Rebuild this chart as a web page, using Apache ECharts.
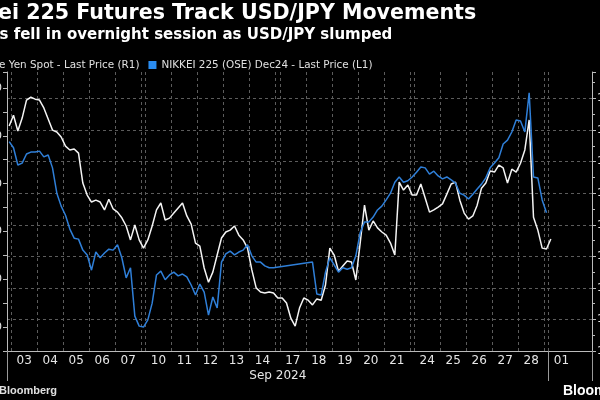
<!DOCTYPE html>
<html>
<head>
<meta charset="utf-8">
<script src="https://cdn.jsdelivr.net/npm/echarts@6/dist/echarts.min.js"></script>
<style>
  html, body { margin: 0; padding: 0; background: #000; }
  #chart { width: 600px; height: 400px; }
</style>
</head>
<body>
<div id="chart"></div>
<script>
// x axis sessions: label + number of slots (the 1-slot ones are the weekend stubs)
const sessionLabels = ['', '03', '04', '05', '06', '07', '', '10', '11', '12', '13', '14', '', '17', '18', '19', '20', '21', '', '24', '25', '26', '27', '28', '', '01'];
const sessionSlots  = [1, 6, 6, 6, 6, 6, 1, 6, 6, 6, 6, 6, 1, 6, 6, 6, 6, 6, 1, 6, 6, 6, 6, 6, 1, 10];

// USD/JPY (right axis)
const usdJpy = [
  146.13,
  146.47, 145.97, 146.38, 146.95, 147.04, 146.98,
  146.95, 146.70, 146.35, 146.00, 145.94, 145.78,
  145.49, 145.37, 145.40, 145.27, 144.32, 143.94,
  143.72, 143.78, 143.72, 143.47, 143.81, 143.50,
  143.40, 143.22, 142.96, 142.52, 142.99, 142.52,
  142.26,
  142.52, 142.96, 143.47, 143.69, 143.15, 143.21,
  143.37, 143.53, 143.69, 143.28, 143.02, 142.42,
  142.32, 141.63, 141.18, 141.50, 142.04, 142.58,
  142.77, 142.83, 142.96, 142.67, 142.52, 142.26,
  141.57, 141.00, 140.87, 140.84, 140.87, 140.84,
  140.68,
  140.68, 140.52, 140.04, 139.79, 140.36, 140.68,
  140.61, 140.46, 140.65, 140.61, 141.09, 142.26,
  142.04, 141.53, 141.69, 141.85, 141.82, 141.25,
  142.42, 143.62, 142.83, 143.12, 142.90, 142.77,
  142.67, 142.42, 142.04, 144.35, 144.10, 144.26,
  143.94,
  143.94, 144.29, 143.85, 143.40, 143.47, 143.56,
  143.66, 143.97, 144.29, 144.35, 143.78, 143.37,
  143.18, 143.28, 143.62, 144.16, 144.32, 144.70,
  144.67, 144.89, 144.80, 144.32, 144.76, 144.67,
  144.95, 145.37, 146.32, 143.24, 142.83, 142.26,
  142.23,
  142.55
];

// Nikkei 225 Dec24 futures (left axis), nulls = no trading
const nikkei = [
  38880,
  38750, 38390, 38430, 38620, 38660, 38660,
  38680, 38560, 38600, 38330, 37800, 37530,
  37340, 37050, 36860, 36840, 36610, 36510,
  36190, 36570, 36450, 36550, 36630, 36610,
  36720, 36450, 36030, 36240, 35230, 35020,
  35000,
  35150, 35500, 36090, 36170, 35990, 36090,
  36150, 36070, 36110, 36050, 35880, 35670,
  35900, 35730, 35250, 35630, 35400, 36360,
  36530, 36590, 36510, 36570, 36610, 36720,
  36490, 36360, 36360, 36280, 36240, 36240,
  null,
  null, null, null, null, null, null,
  null, 36360, 35690, 35670, 36150, 36450,
  36300, 36150, 36240, 36210, 36240, 36490,
  36970, 37200, 37200, 37300, 37450, 37530,
  37660, 37800, 38030, 38140, 38030, 38060,
  38140,
  38240, 38350, 38330, 38200, 38260, 38160,
  38100, 38140, 38080, 38010, 37800, 37760,
  37680, 37780, 37890, 37990, 38120, 38330,
  38430, 38540, 38830, 38910, 39080, 39330,
  39310, 39080, 39900, 38140, 38120, 37660,
  37390
];

const leftRange = [34500, 40335];
const rightRange = [139, 147.84];

const titleText = 'Nikkei 225 Futures Track USD/JPY Movements';
const subText = 'Futures fell in overnight session as USD/JPY slumped';
const seriesNames = ['Japanese Yen Spot - Last Price (R1)', 'NIKKEI 225 (OSE) Dec24 - Last Price (L1)'];

// build slot categories
const cats = [], catLabel = [], dayStart = [];
let monthStart = 0;
sessionLabels.forEach((lab, s) => {
  for (let k = 0; k < sessionSlots[s]; k++) {
    const i = cats.length;
    if (lab === '01' && k === 0) monthStart = i;
    cats.push(String(i));
    dayStart.push(k === 0);
    catLabel.push(lab && k === 2 ? lab : '');
  }
});

const ctx = document.createElement('canvas').getContext('2d');
function textW(s, font) { ctx.font = font; return ctx.measureText(s).width; }

const fTitle = 'bold 20.6px "DejaVu Sans"';
const fSub = 'bold 15px "DejaVu Sans"';
const fLegend = '10.4px "DejaVu Sans"';
const fSource = 'bold 11px "Liberation Sans"';

const gridL = 7, gridR = 8;
const plotW = 600 - gridL - gridR;
const sepX = gridL + (monthStart / cats.length) * plotW / 2;

const chart = echarts.init(document.getElementById('chart'));
chart.setOption({
  backgroundColor: '#000',
  animation: false,
  grid: { left: gridL, right: gridR, top: 72, bottom: 49, containLabel: false, outerBoundsMode: 'none' },
  legend: {
    data: seriesNames,
    icon: 'rect',
    itemWidth: 8,
    itemHeight: 8,
    itemGap: 9,
    left: -(8 + 5 + textW('Japanes', fLegend)) - 6,
    top: 55,
    textStyle: { color: '#e0e0e0', fontFamily: 'DejaVu Sans', fontSize: 10.4 }
  },
  xAxis: [
    {
      type: 'category',
      data: cats,
      boundaryGap: true,
      axisLine: { lineStyle: { color: '#bbbbbb' } },
      axisTick: { show: true, length: 30, interval: (i) => i === 0 || i === monthStart, lineStyle: { color: '#9a9a9a' } },
      axisLabel: {
        interval: (i) => catLabel[i] !== '',
        formatter: (v) => catLabel[+v],
        color: '#e6e6e6', fontFamily: 'DejaVu Sans', fontSize: 12, margin: 4, padding: [0, 0, 0, 4]
      },
      splitLine: { show: true, interval: (i) => dayStart[i], lineStyle: { color: '#5c5c5c', type: [3, 3] } }
    },
    {
      type: 'category',
      data: cats,
      position: 'bottom',
      boundaryGap: true,
      axisLine: { show: false },
      axisTick: { show: false },
      axisLabel: { show: false },
      splitLine: { show: true, interval: (i) => i === monthStart, lineStyle: { color: '#9a9a9a', type: 'solid' } }
    }
  ],
  yAxis: [
    {
      type: 'value',
      position: 'left',
      min: leftRange[0],
      max: leftRange[1],
      interval: 500,
      axisLine: { show: true, lineStyle: { color: '#bbbbbb' } },
      axisTick: { show: true, length: 4, lineStyle: { color: '#bbbbbb' } },
      axisLabel: {
        margin: 5, color: '#e6e6e6', fontFamily: 'DejaVu Sans', fontSize: 11,
        formatter: (v) => (v % 1000 === 0 ? String(v) : '')
      },
      splitLine: { show: false }
    },
    {
      type: 'value',
      position: 'right',
      min: rightRange[0],
      max: rightRange[1],
      interval: 1,
      axisLine: { show: true, lineStyle: { color: '#bbbbbb' } },
      axisTick: { show: true, length: 4, lineStyle: { color: '#bbbbbb' } },
      minorTick: { show: true, splitNumber: 2, length: 3, lineStyle: { color: '#bbbbbb' } },
      axisLabel: {
        margin: 5, color: '#e6e6e6', fontFamily: 'DejaVu Sans', fontSize: 11,
        formatter: (v) => (Number.isInteger(v) ? String(v) : '')
      },
      splitLine: { show: true, showMinLine: false, showMaxLine: false, lineStyle: { color: '#5c5c5c', type: [3, 3] } }
    }
  ],
  series: [
    {
      name: seriesNames[0],
      type: 'line',
      yAxisIndex: 1,
      data: usdJpy,
      showSymbol: false,
      lineStyle: { color: '#f4f4f4', width: 1.5 },
      itemStyle: { color: '#ffffff' }
    },
    {
      name: seriesNames[1],
      type: 'line',
      yAxisIndex: 0,
      data: nikkei,
      connectNulls: true,
      showSymbol: false,
      lineStyle: { color: '#2f7fd8', width: 1.5 },
      itemStyle: { color: '#2a8cf0' }
    }
  ],
  graphic: [
    { type: 'text', x: -(textW('Nikk', fTitle) + 1.5), y: 14,
      style: { text: titleText, font: fTitle, fill: '#ffffff', textVerticalAlign: 'middle' } },
    { type: 'text', x: -(textW('Future', fSub) + 0.5), y: 35,
      style: { text: subText, font: fSub, fill: '#ffffff', textVerticalAlign: 'middle' } },
    { type: 'text', x: sepX, y: 376,
      style: { text: 'Sep 2024', font: '12px "DejaVu Sans"', fill: '#e6e6e6', textAlign: 'center', textVerticalAlign: 'middle' } },
    { type: 'text', x: -(textW('Source: ', fSource) + 1), y: 391,
      style: { text: 'Source: Bloomberg', font: fSource, fill: '#e0e0e0', textVerticalAlign: 'middle' } },
    { type: 'text', x: 563, y: 391,
      style: { text: 'Bloomberg', font: 'bold 14px "Liberation Sans"', fill: '#ffffff', textVerticalAlign: 'middle' } }
  ]
});
</script>
</body>
</html>
